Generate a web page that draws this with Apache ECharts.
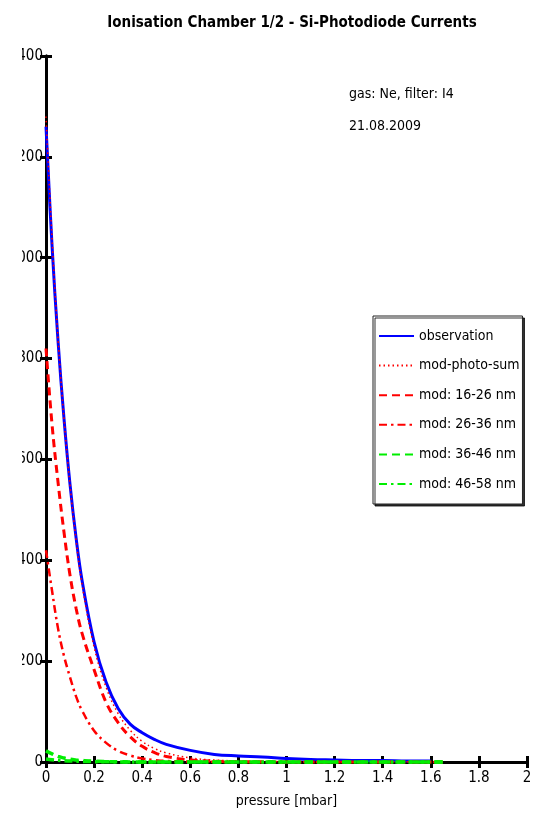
<!DOCTYPE html>
<html>
<head>
<meta charset="utf-8">
<script src="https://cdn.jsdelivr.net/npm/echarts@6/dist/echarts.min.js"></script>
<style>
html,body{margin:0;padding:0;background:#fff;}
#c{width:543px;height:826px;}
</style>
</head>
<body>
<div id="c"></div>
<script>
// ---- data ----
const pressure     = [0, 0.025, 0.05, 0.075, 0.1, 0.125, 0.15, 0.2, 0.25, 0.3, 0.35, 0.4, 0.45, 0.5, 0.6, 0.7, 0.8, 0.9, 1.0, 1.1, 1.2, 1.3, 1.4, 1.5, 1.6, 1.65];
const observation  = [1260, 1025, 835, 680, 550, 445, 360, 238, 158, 106, 75, 58, 45, 35, 23, 15, 12, 10, 7, 5, 4, 3, 3, 2, 2, null];
const modPhotoSum  = [1280, 1040, 840, 680, 548, 440, 352, 228, 148, 96, 63, 41, 27, 18, 8, 4, 2, 1.2, 0.8, 0.6, 0.5, 0.4, 0.3, 0.3, 0.2, 0.2];
const mod16to26    = [820, 670, 555, 455, 370, 305, 255, 183, 118, 78, 50, 31, 19, 11, 4, 1.5, 0.6, 0.3, 0.2, 0.1, 0.1, 0.1, 0.1, 0.1, 0.1, 0.1];
const mod26to36    = [420, 340, 265, 210, 168, 130, 102, 62, 38, 22, 13, 7, 4, 2, 0.8, 0.3, 0.1, 0.1, 0, 0, 0, 0, 0, 0, 0, 0];
const mod36to46    = [22, 16, 11, 8, 5.5, 4, 3, 1.5, 0.8, 0.4, 0.2, 0.1, 0, 0, 0, 0, 0, 0, 0, 0, 0, 0, 0, 0, 0, 0];
const mod46to58    = [6, 4.5, 3.5, 2.5, 2, 1.5, 1.2, 0.7, 0.4, 0.2, 0.1, 0.1, 0, 0, 0, 0, 0, 0, 0, 0, 0, 0, 0, 0, 0, 0];
const seriesNames  = ['observation', 'mod-photo-sum', 'mod: 16-26 nm', 'mod: 26-36 nm', 'mod: 36-46 nm', 'mod: 46-58 nm'];
const titleText    = 'Ionisation Chamber 1/2 - Si-Photodiode Currents';
const xAxisName    = 'pressure [mbar]';
const noteLines    = ['gas: Ne, filter: I4', '21.08.2009'];
const xRange = [0, 2, 0.2];
const yRange = [0, 1400, 200];

const FONT = "'Liberation Sans Narrow', 'DejaVu Sans Condensed', 'Arial Narrow', sans-serif";
const pair = arr => pressure.map((p, i) => [p, arr[i]]);

const styles = [
  {color: '#0000ff', width: 3, type: 'solid'},
  {color: '#ff0000', width: 1.5, type: [1.5, 3]},
  {color: '#ff0000', width: 3, type: [8, 5]},
  {color: '#ff0000', width: 2.5, type: [8, 4, 2.5, 4]},
  {color: '#00ee00', width: 3.5, type: [8, 5]},
  {color: '#00ee00', width: 3.5, type: [8, 4, 2.5, 4]}
];
const datasets = [observation, modPhotoSum, mod16to26, mod26to36, mod36to46, mod46to58];

const chart = echarts.init(document.getElementById('c'), null, {renderer: 'canvas'});
const axisCommon = {
  axisLine: {show: true, lineStyle: {color: '#000', width: 3}},
  axisTick: {show: true, inside: true, length: 6, lineStyle: {color: '#000', width: 3}},
  splitLine: {show: false}
};
chart.setOption({
  animation: false,
  backgroundColor: '#fff',
  title: {
    text: titleText, left: 287, textAlign: 'center', top: 11,
    textStyle: {fontFamily: FONT, fontSize: 15, fontWeight: 'bold', color: '#000'}
  },
  grid: {left: 46, right: 16, top: 56, bottom: 64, containLabel: false},
  legend: {
    left: 373, top: 316, orient: 'vertical',
    padding: [13, 3, 13, 5], itemGap: 15.6, itemWidth: 35, itemHeight: 14,
    backgroundColor: '#fff', borderColor: '#222', borderWidth: 1,
    shadowColor: 'rgba(0,0,0,0.8)', shadowOffsetX: 2, shadowOffsetY: 2, shadowBlur: 0,
    itemStyle: {color: 'rgba(0,0,0,0)', borderColor: 'rgba(0,0,0,0)', borderWidth: 0},
    textStyle: {fontFamily: FONT, fontSize: 14, color: '#000'},
    data: seriesNames.map(n => ({name: n}))
  },
  xAxis: [
    Object.assign({}, axisCommon, {
      type: 'value', min: xRange[0], max: xRange[1], interval: xRange[2], position: 'bottom',
      name: xAxisName, nameLocation: 'middle', nameGap: 32,
      nameTextStyle: {fontFamily: FONT, fontSize: 14, color: '#000'},
      axisLabel: {fontFamily: FONT, fontSize: 15, color: '#000', margin: 9}
    }),
    Object.assign({}, axisCommon, {
      type: 'value', min: xRange[0], max: xRange[1], interval: xRange[2], position: 'top',
      axisLabel: {show: false}
    })
  ],
  yAxis: [
    Object.assign({}, axisCommon, {
      type: 'value', min: yRange[0], max: yRange[1], interval: yRange[2], position: 'left',
      axisLabel: {fontFamily: FONT, fontSize: 15, color: '#000', margin: 3}
    }),
    Object.assign({}, axisCommon, {
      type: 'value', min: yRange[0], max: yRange[1], interval: yRange[2], position: 'right',
      axisLabel: {show: false}
    })
  ],
  graphic: [
    {type: 'rect', left: 0, top: 40, z: 100, shape: {width: 22, height: 740}, style: {fill: '#fff'}},
    {type: 'text', left: 349, top: 87, z: 10, style: {text: noteLines[0], fontFamily: FONT, fontSize: 14, fill: '#000'}},
    {type: 'text', left: 349, top: 119, z: 10, style: {text: noteLines[1], fontFamily: FONT, fontSize: 14, fill: '#000'}}
  ],
  series: datasets.map((d, i) => ({
    name: seriesNames[i], type: 'line', data: pair(d),
    xAxisIndex: 0, yAxisIndex: 0,
    symbol: 'none', smooth: 0.4, clip: false, connectNulls: false,
    lineStyle: styles[i], itemStyle: {color: styles[i].color}, z: 3
  }))
});
</script>
</body>
</html>
